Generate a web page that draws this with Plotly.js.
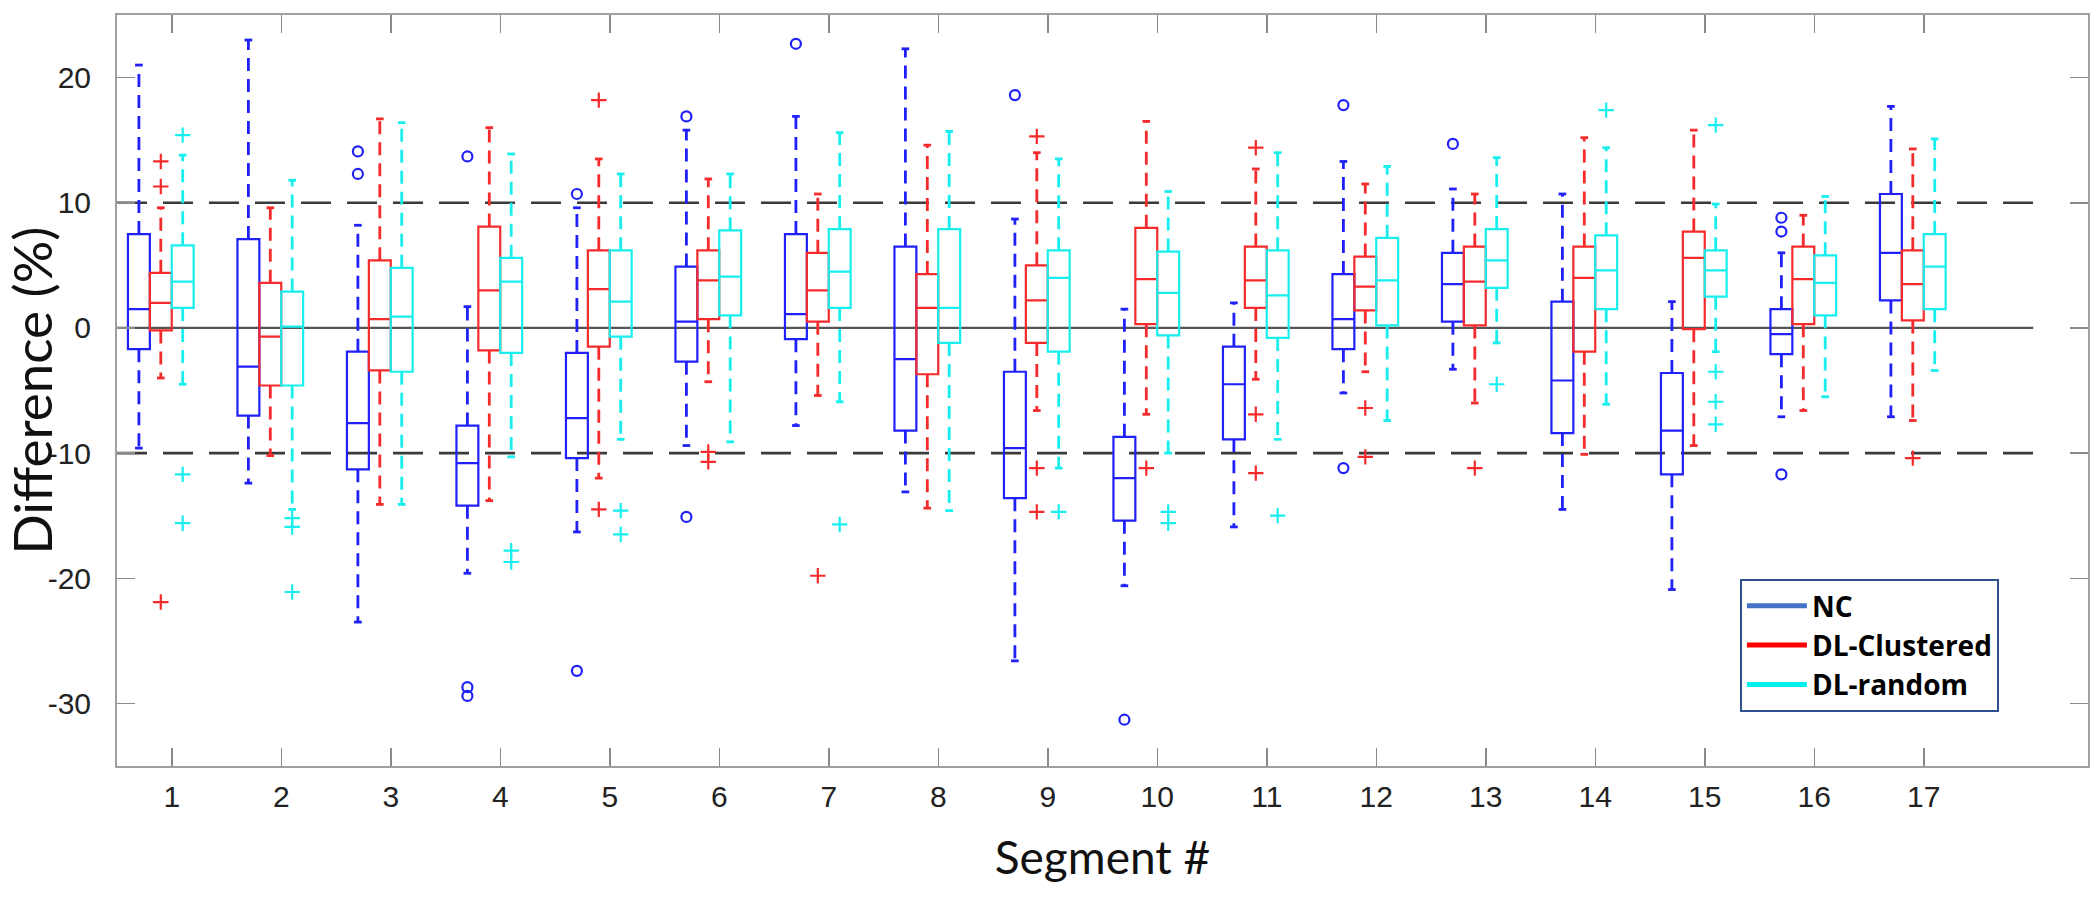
<!DOCTYPE html>
<html>
<head>
<meta charset="utf-8">
<script src="https://cdn.plot.ly/plotly-3.0.1.min.js"></script>
<style>html,body{margin:0;padding:0;background:#fff}#chart{width:2100px;height:905px}</style>
</head>
<body>
<div id="chart"></div>
<script>
// ---- data ----
const segments = [1,2,3,4,5,6,7,8,9,10,11,12,13,14,15,16,17];
const seriesNames = ['NC', 'DL-Clustered', 'DL-random'];
const yTickVals = [-30, -20, -10, 0, 10, 20];
const yTickText = ['-30', '-20', '-10', '0', '10', '20'];
const refLevels = [-10, 0, 10];

// NC
const ncLow  = [-9.6,-12.4,-23.5,-19.6,-16.3,-9.4,-7.8,-13.1,-26.6,-20.6,-15.9,-5.2,-3.3,-14.5,-20.9,-7.1,-7.1];
const ncQ1   = [-1.7,-7.0,-11.3,-14.2,-10.4,-2.7,-0.9,-8.2,-13.6,-15.4,-8.9,-1.7,0.5,-8.4,-11.7,-2.1,2.2];
const ncMed  = [1.5,-3.1,-7.6,-10.8,-7.2,0.5,1.1,-2.5,-9.6,-12.0,-4.5,0.7,3.5,-4.2,-8.2,-0.5,6.0];
const ncQ3   = [7.5,7.1,-1.9,-7.8,-2.0,4.9,7.5,6.5,-3.5,-8.7,-1.5,4.3,6.0,2.1,-3.6,1.5,10.7];
const ncHigh = [21.0,23.0,8.2,1.7,9.6,15.8,16.9,22.3,8.7,1.5,2.0,13.3,11.1,10.7,2.1,6.0,17.7];
const ncOut  = [[],[],[14.1,12.3],[13.7,-28.7,-29.4],[10.7,-27.4],[16.9,-15.1],[22.7],[],[18.6],[-31.3],[],[17.8,-11.2],[14.7],[],[],[8.8,7.7,-11.7],[]];

// DL-Clustered
const dlcLow  = [-4.0,-10.2,-14.1,-13.8,-12.0,-4.3,-5.4,-14.4,-6.6,-6.9,-4.1,-3.5,-6.0,-10.1,-9.4,-6.6,-7.4];
const dlcQ1   = [-0.2,-4.6,-3.4,-1.8,-1.5,0.7,0.5,-3.7,-1.2,0.3,1.6,1.4,0.2,-1.9,-0.1,0.3,0.6];
const dlcMed  = [2.0,-0.7,0.7,3.0,3.1,3.8,3.0,1.6,2.2,3.9,3.8,3.3,3.7,4.0,5.6,3.9,3.5];
const dlcQ3   = [4.4,3.6,5.4,8.1,6.2,6.2,6.0,4.3,5.0,8.0,6.5,5.7,6.5,6.5,7.7,6.5,6.2];
const dlcHigh = [9.6,9.6,16.7,16.0,13.5,11.9,10.7,14.6,14.0,16.5,12.7,11.5,10.7,15.2,15.8,9.0,14.3];
const dlcOut  = [[13.3,11.3,-21.9],[],[],[],[18.2,-14.5],[-9.9,-10.7],[-19.8],[],[15.3,-11.2,-14.7],[-11.2],[14.4,-6.9,-11.6],[-6.4,-10.3],[-11.2],[],[],[],[-10.4]];

// DL-random
const dlrLow  = [-4.5,-14.5,-14.1,-10.3,-8.9,-9.1,-5.9,-14.6,-11.2,-10.0,-8.9,-7.4,-1.2,-6.1,-1.9,-5.5,-3.4];
const dlrQ1   = [1.6,-4.6,-3.5,-2.0,-0.7,1.0,1.6,-1.2,-1.9,-0.6,-0.8,0.2,3.2,1.5,2.5,1.0,1.5];
const dlrMed  = [3.7,0.1,0.9,3.7,2.1,4.1,4.5,1.6,4.0,2.8,2.6,3.8,5.4,4.6,4.6,3.6,4.9];
const dlrQ3   = [6.6,2.9,4.8,5.6,6.2,7.8,7.9,7.9,6.2,6.1,6.2,7.2,7.9,7.4,6.2,5.8,7.5];
const dlrHigh = [13.8,11.8,16.4,13.9,12.3,12.3,15.6,15.7,13.5,10.9,14.0,12.9,13.6,14.4,9.9,10.5,15.1];
const dlrOut  = [[15.4,-11.7,-15.6],[-15.2,-15.9,-21.1],[],[-17.8,-18.7],[-14.6,-16.5],[],[-15.7],[],[-14.7],[-14.7,-15.6],[-15.0],[],[-4.5],[17.4],[16.2,-3.5,-5.9,-7.7],[],[]];

// ---- styling ----
const styles = [
  {low:ncLow,  q1:ncQ1,  med:ncMed,  q3:ncQ3,  high:ncHigh,  out:ncOut,  color:'#2020f8', legendColor:'#4472C4', offset:-0.3, symbol:'circle-open', msize:10},
  {low:dlcLow, q1:dlcQ1, med:dlcMed, q3:dlcQ3, high:dlcHigh, out:dlcOut, color:'#f52a2a', legendColor:'#FF0000', offset:-0.1, symbol:'cross-thin-open', msize:11},
  {low:dlrLow, q1:dlrQ1, med:dlrMed, q3:dlrQ3, high:dlrHigh, out:dlrOut, color:'#18eeee', legendColor:'#00F0F0', offset:0.1, symbol:'cross-thin-open', msize:11}
];
const boxWidth = 0.2;
const capHalf = 0.035;

const traces = [];
styles.forEach((s, k) => {
  const pos = segments.map(v => v + s.offset);
  // boxes (whiskers drawn separately, dashed)
  traces.push({
    type:'box', x:pos, q1:s.q1, median:s.med, q3:s.q3, lowerfence:s.q1, upperfence:s.q3,
    width:boxWidth, whiskerwidth:0, boxpoints:false,
    line:{color:s.color, width:2.2}, fillcolor:'rgba(0,0,0,0)',
    name:seriesNames[k], showlegend:false, hoverinfo:'skip'
  });
  // dashed whiskers
  const wx = [], wy = [];
  pos.forEach((p, i) => {
    wx.push(p, p, null, p, p, null);
    wy.push(s.q3[i], s.high[i], null, s.q1[i], s.low[i], null);
  });
  traces.push({type:'scatter', mode:'lines', x:wx, y:wy, line:{color:s.color, width:2.8, dash:'13px,8px'},
    showlegend:false, hoverinfo:'skip'});
  // caps
  const cx = [], cy = [];
  pos.forEach((p, i) => {
    cx.push(p - capHalf, p + capHalf, null, p - capHalf, p + capHalf, null);
    cy.push(s.high[i], s.high[i], null, s.low[i], s.low[i], null);
  });
  traces.push({type:'scatter', mode:'lines', x:cx, y:cy, line:{color:s.color, width:2.8},
    showlegend:false, hoverinfo:'skip'});
  // outliers
  const ox = [], oy = [];
  pos.forEach((p, i) => { s.out[i].forEach(v => { ox.push(p); oy.push(v); }); });
  traces.push({type:'scatter', mode:'markers', x:ox, y:oy,
    marker:{symbol:s.symbol, size:s.msize, color:s.color, line:{color:s.color, width:2.2}},
    showlegend:false, hoverinfo:'skip'});
});
// legend entries
styles.forEach((s, k) => {
  traces.push({type:'scatter', mode:'lines', x:[null], y:[null], name:seriesNames[k],
    line:{color:s.legendColor, width:5}, showlegend:true});
});

const shapes = refLevels.map(v => ({
  type:'line', xref:'x', yref:'y', x0:0.5, x1:18, y0:v, y1:v, layer:'below',
  line: v === 0 ? {color:'#555555', width:2.2} : {color:'#3a3a3a', width:2.6, dash:'30px,16px'}
}));

const axisCommon = {
  showgrid:false, zeroline:false, showline:true, linecolor:'#a0a0a0', linewidth:2,
  mirror:'ticks', ticks:'inside', ticklen:18, tickwidth:1.5, tickcolor:'#8a8a8a',
  tickfont:{family:'Liberation Sans, Arial, sans-serif', size:30, color:'#222'}
};

const layout = {
  width:2100, height:905,
  margin:{l:117, r:12, t:15, b:139},
  paper_bgcolor:'#fff', plot_bgcolor:'#fff',
  boxmode:'overlay',
  xaxis:Object.assign({}, axisCommon, {
    range:[0.5,18.5], tickvals:segments, ticktext:segments.map(String), ticklabelstandoff:3,
    title:{text:'Segment #', font:{family:'Lato, Carlito, sans-serif', size:46, color:'#111'}, standoff:30}
  }),
  yaxis:Object.assign({}, axisCommon, {
    range:[-35,25], tickvals:yTickVals, ticktext:yTickText, ticklabelstandoff:18,
    title:{text:'Difference (%)', font:{family:'Lato, Carlito, sans-serif', size:53, color:'#111'}, standoff:0}
  }),
  shapes:shapes,
  legend:{
    x:0.8234, y:0.249, xanchor:'left', yanchor:'top',
    bgcolor:'#fff', bordercolor:'#2F528F', borderwidth:2,
    font:{family:'Open Sans, sans-serif', size:28, color:'#000', weight:700},
    itemwidth:60, tracegroupgap:0
  },
  showlegend:true
};

Plotly.newPlot('chart', traces, layout, {displayModeBar:false, staticPlot:true});
</script>
</body>
</html>
